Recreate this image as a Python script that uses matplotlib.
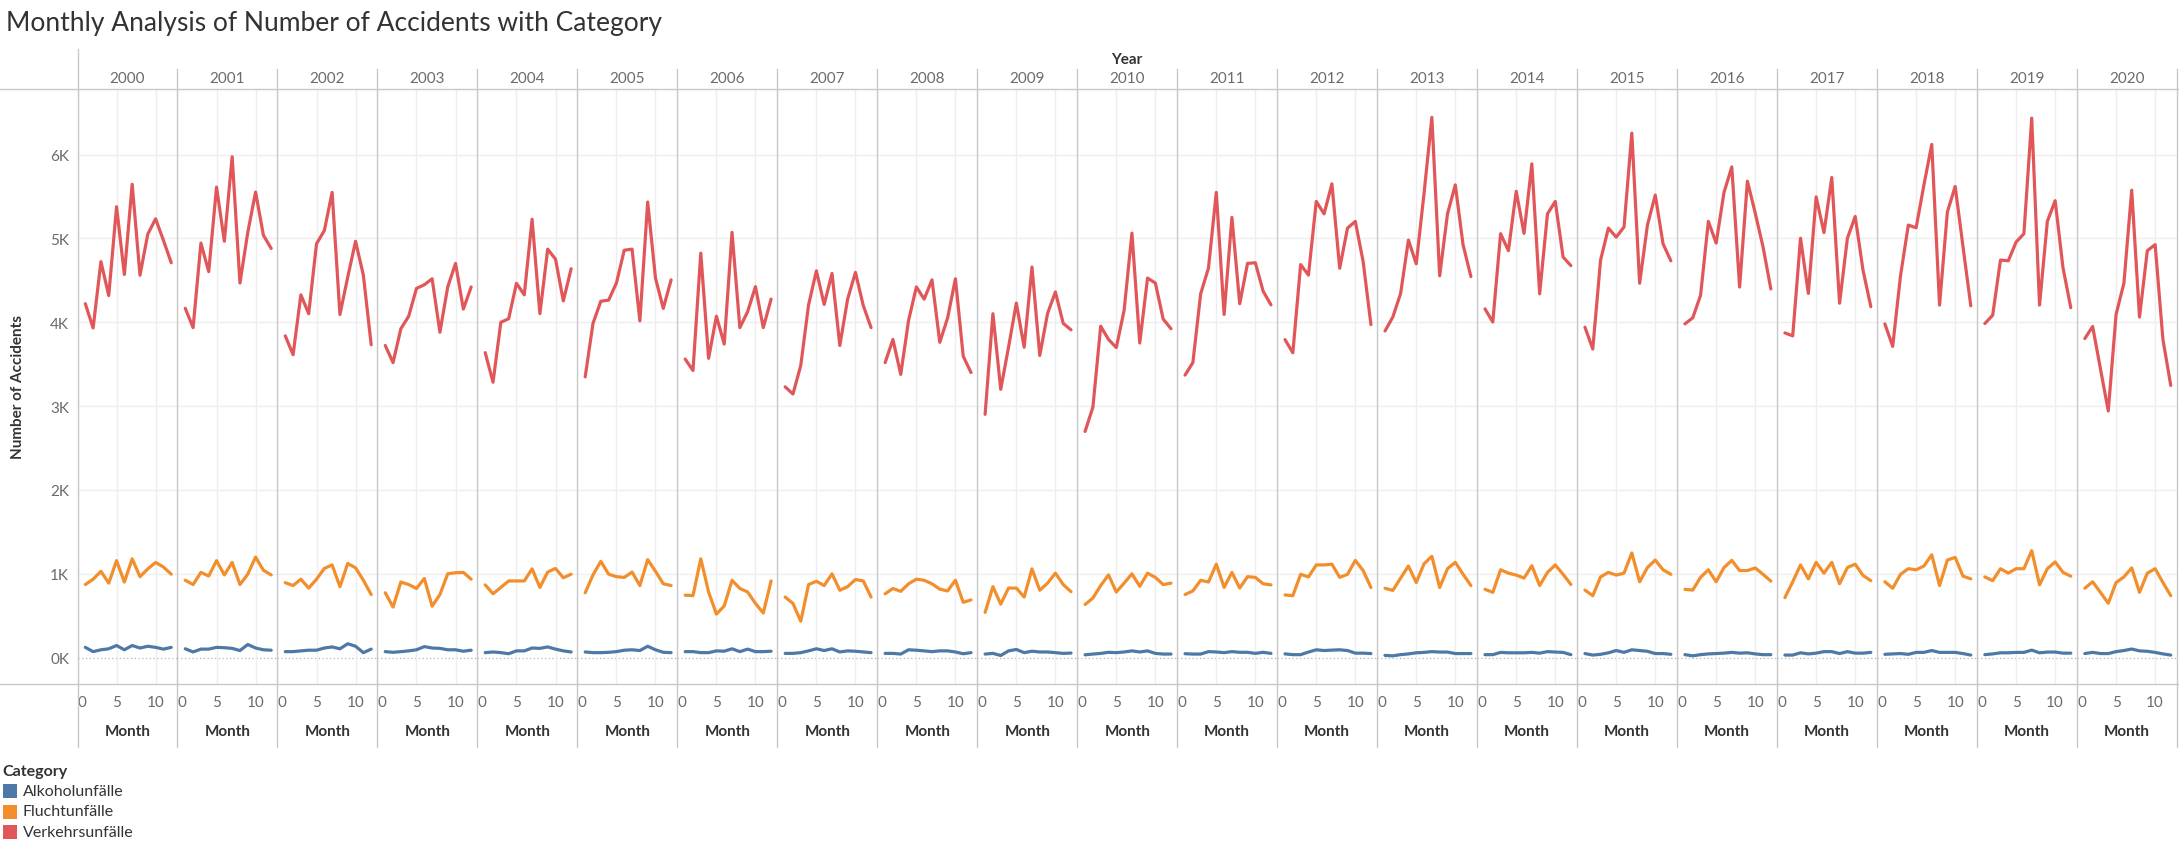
import matplotlib
matplotlib.use("Agg")
import matplotlib.pyplot as plt
from matplotlib.lines import Line2D
from matplotlib.patches import Rectangle

plt.rcParams["font.family"] = ["Lato", "DejaVu Sans"]

W, H = 2179, 845

years = list(range(2000, 2021))
months = list(range(1, 13))
categories = ["Alkoholunfälle", "Fluchtunfälle", "Verkehrsunfälle"]
colors = ["#4e79a7", "#f28e2b", "#e15759"]
y_ticks = [0, 1000, 2000, 3000, 4000, 5000, 6000]
y_tick_labels = ["0K", "1K", "2K", "3K", "4K", "5K", "6K"]
x_ticks = [0, 5, 10]

# one row per year, Jan..Dec
alkohol = [
    [123, 72, 94, 106, 145, 94, 145, 115, 136, 123, 102, 123],
    [106, 68, 102, 102, 123, 119, 111, 85, 157, 115, 94, 89],
    [72, 72, 81, 89, 89, 115, 128, 106, 166, 136, 60, 102],
    [72, 64, 72, 81, 94, 132, 115, 111, 94, 94, 77, 89],
    [60, 68, 60, 47, 81, 81, 115, 111, 128, 102, 81, 68],
    [68, 60, 60, 64, 72, 89, 94, 85, 136, 94, 64, 60],
    [72, 72, 60, 60, 81, 77, 106, 72, 102, 72, 72, 77],
    [51, 51, 60, 81, 106, 85, 106, 68, 81, 77, 68, 60],
    [51, 51, 43, 94, 89, 81, 72, 81, 81, 68, 47, 60],
    [43, 51, 26, 81, 98, 60, 77, 68, 68, 60, 51, 55],
    [34, 43, 51, 64, 60, 68, 81, 68, 81, 51, 43, 43],
    [47, 43, 43, 72, 68, 60, 72, 64, 64, 51, 64, 51],
    [45, 36, 36, 67, 94, 85, 90, 94, 85, 54, 54, 49],
    [27, 22, 36, 45, 58, 63, 72, 67, 67, 49, 49, 49],
    [36, 36, 63, 58, 58, 58, 63, 54, 72, 67, 63, 36],
    [49, 31, 40, 58, 85, 63, 94, 85, 76, 49, 49, 40],
    [36, 22, 36, 45, 49, 54, 63, 54, 58, 45, 36, 36],
    [31, 31, 58, 45, 54, 72, 72, 49, 72, 54, 54, 63],
    [40, 45, 49, 40, 63, 63, 85, 63, 63, 63, 49, 31],
    [36, 45, 58, 58, 63, 63, 90, 58, 67, 67, 54, 54],
    [49, 63, 49, 49, 72, 85, 103, 81, 76, 63, 45, 31],
]

flucht = [
    [872, 936, 1030, 889, 1157, 902, 1179, 966, 1059, 1136, 1081, 996],
    [923, 872, 1017, 974, 1157, 987, 1136, 872, 996, 1200, 1042, 987],
    [894, 860, 936, 830, 936, 1064, 1106, 847, 1123, 1072, 923, 753],
    [774, 604, 902, 872, 825, 945, 613, 753, 1000, 1013, 1017, 936],
    [868, 762, 838, 915, 915, 915, 1059, 838, 1021, 1064, 953, 996],
    [774, 987, 1149, 996, 966, 957, 1021, 860, 1170, 1030, 881, 860],
    [745, 740, 1179, 783, 519, 617, 923, 825, 783, 647, 532, 915],
    [723, 647, 434, 872, 911, 860, 1000, 804, 847, 932, 915, 723],
    [762, 825, 791, 881, 936, 923, 881, 817, 796, 923, 660, 689],
    [540, 847, 638, 830, 830, 723, 1059, 804, 889, 1008, 872, 787],
    [634, 711, 860, 987, 783, 889, 1000, 851, 1008, 957, 872, 889],
    [753, 796, 923, 902, 1115, 838, 1017, 830, 966, 957, 881, 868],
    [748, 739, 994, 963, 1106, 1106, 1115, 958, 994, 1160, 1039, 837],
    [828, 802, 949, 1093, 896, 1120, 1209, 837, 1061, 1137, 994, 860],
    [815, 779, 1048, 1008, 985, 949, 1097, 860, 1017, 1106, 994, 873],
    [806, 739, 963, 1017, 985, 1008, 1249, 905, 1075, 1164, 1048, 994],
    [815, 806, 958, 1048, 905, 1075, 1160, 1039, 1039, 1070, 994, 913],
    [716, 905, 1106, 940, 1137, 1008, 1137, 882, 1075, 1115, 981, 918],
    [905, 828, 994, 1061, 1048, 1093, 1227, 860, 1164, 1196, 972, 940],
    [963, 918, 1061, 1008, 1061, 1061, 1276, 869, 1061, 1142, 1017, 972],
    [828, 905, 779, 649, 896, 963, 1070, 779, 1008, 1061, 896, 739],
]

verkehr = [
    [4221, 3932, 4723, 4319, 5378, 4570, 5646, 4561, 5051, 5234, 4978, 4710],
    [4166, 3936, 4944, 4604, 5612, 4966, 5974, 4468, 5072, 5553, 5038, 4880],
    [3838, 3613, 4327, 4102, 4936, 5093, 5549, 4093, 4540, 4966, 4561, 3732],
    [3723, 3519, 3923, 4072, 4404, 4447, 4519, 3881, 4421, 4702, 4157, 4421],
    [3638, 3285, 4000, 4042, 4464, 4327, 5229, 4102, 4872, 4753, 4255, 4638],
    [3349, 3987, 4251, 4264, 4468, 4859, 4872, 4017, 5434, 4527, 4166, 4506],
    [3561, 3425, 4825, 3570, 4072, 3740, 5072, 3936, 4127, 4425, 3936, 4276],
    [3230, 3144, 3485, 4208, 4613, 4212, 4583, 3723, 4276, 4595, 4200, 3936],
    [3519, 3795, 3378, 4021, 4421, 4276, 4506, 3761, 4051, 4519, 3595, 3400],
    [2902, 4102, 3200, 3702, 4229, 3702, 4659, 3604, 4106, 4361, 3987, 3910],
    [2698, 2987, 3953, 3795, 3698, 4144, 5063, 3753, 4527, 4468, 4038, 3923],
    [3370, 3519, 4340, 4646, 5549, 4093, 5251, 4221, 4702, 4710, 4370, 4208],
    [3793, 3636, 4688, 4563, 5441, 5293, 5651, 4644, 5123, 5203, 4724, 3972],
    [3896, 4062, 4344, 4980, 4697, 5539, 6444, 4554, 5293, 5638, 4921, 4545],
    [4160, 4003, 5056, 4854, 5562, 5060, 5889, 4339, 5293, 5441, 4778, 4675],
    [3941, 3681, 4742, 5123, 5015, 5136, 6256, 4465, 5159, 5517, 4935, 4733],
    [3981, 4053, 4321, 5203, 4944, 5548, 5853, 4420, 5683, 5302, 4899, 4397],
    [3873, 3838, 5002, 4344, 5495, 5069, 5727, 4227, 5002, 5262, 4621, 4187],
    [3981, 3712, 4554, 5159, 5127, 5638, 6121, 4205, 5315, 5620, 4903, 4196],
    [3985, 4084, 4742, 4733, 4957, 5056, 6435, 4205, 5203, 5450, 4653, 4174],
    [3806, 3950, 3444, 2942, 4093, 4465, 5575, 4062, 4854, 4926, 3793, 3247],
]

series = [alkohol, flucht, verkehr]

TEXT = "#333333"
TICK = "#6b6b6b"
DIV = "#c8c8c8"
GRID = "#eeeeee"


def fx(px):
    return px / W


def fy(px):
    return 1 - px / H


fig = plt.figure(figsize=(W / 100, H / 100), dpi=100)
fig.patch.set_facecolor("white")

left_px, right_px = 77.5, 2177
top_px, bot_px = 90, 685
pw = (right_px - left_px) / len(years)

axes = []
for i, year in enumerate(years):
    x0 = left_px + i * pw
    ax = fig.add_axes([fx(x0), fy(bot_px), pw / W, (bot_px - top_px) / H])
    for k, data in enumerate(series):
        ax.plot(months, data[i], color=colors[k], lw=2.3, solid_joinstyle="round",
                solid_capstyle="round", zorder=3)
    ax.set_xlim(0, 12.8)
    ax.set_ylim(-314, 6782)
    ax.set_yticks(y_ticks)
    ax.set_xticks(x_ticks)
    ax.set_xticklabels([str(t) for t in x_ticks])
    ax.xaxis.get_majorticklabels()[0].set_ha("left")
    ax.tick_params(length=0, labelsize=11, labelcolor=TICK, pad=8)
    if i == 0:
        ax.set_yticklabels(y_tick_labels)
        ax.tick_params(axis="y", pad=6)
    else:
        ax.set_yticklabels([])
    ax.grid(True, color=GRID, lw=1, zorder=0)
    ax.get_ygridlines()[0].set_visible(False)
    ax.axhline(0, color="#b5b5b5", lw=0.9, ls=(0, (1, 2)), zorder=1)
    for s in ax.spines.values():
        s.set_visible(False)
    ax.set_xlabel("Month", fontsize=11, fontweight="bold", color=TEXT)
    ax.xaxis.set_label_coords(0.5, (bot_px - 732) / (bot_px - top_px))
    ax.xaxis.label.set_va("center")
    fig.text(fx(x0 + pw / 2), fy(79), str(year), ha="center", va="center",
             fontsize=11, color=TICK)
    axes.append(ax)

# panel dividers and header / footer rules
for i in range(len(years) + 1):
    x = fx(left_px + i * pw)
    y_start = 50 if i == 0 else 70
    fig.add_artist(Line2D([x, x], [fy(y_start), fy(748)], color=DIV, lw=1))
for y in (top_px, bot_px):
    fig.add_artist(Line2D([0, 1], [fy(y), fy(y)], color=DIV, lw=1))

fig.text(fx(6), fy(24), "Monthly Analysis of Number of Accidents with Category",
         ha="left", va="center", fontsize=19, color="#333333")
fig.text(fx((left_px + right_px) / 2), fy(60), "Year", ha="center", va="center",
         fontsize=11, fontweight="bold", color=TEXT)
fig.text(fx(18), fy(387), "Number of Accidents", rotation=90,
         ha="center", va="center", fontsize=11, fontweight="bold", color=TEXT)

# legend, drawn by hand to keep Tableau's spacing
fig.text(fx(2), fy(772), "Category", ha="left", va="center", fontsize=11.5,
         fontweight="bold", color=TEXT)
for k, (name, c) in enumerate(zip(categories, colors)):
    yc = 792 + k * 20.5
    fig.add_artist(Rectangle((fx(3), fy(yc + 7)), 14 / W, 14 / H,
                             transform=fig.transFigure, facecolor=c, edgecolor="none"))
    fig.text(fx(22.5), fy(yc), name, ha="left", va="center", fontsize=11.5, color=TEXT)

fig.savefig("out.png", dpi=100)
